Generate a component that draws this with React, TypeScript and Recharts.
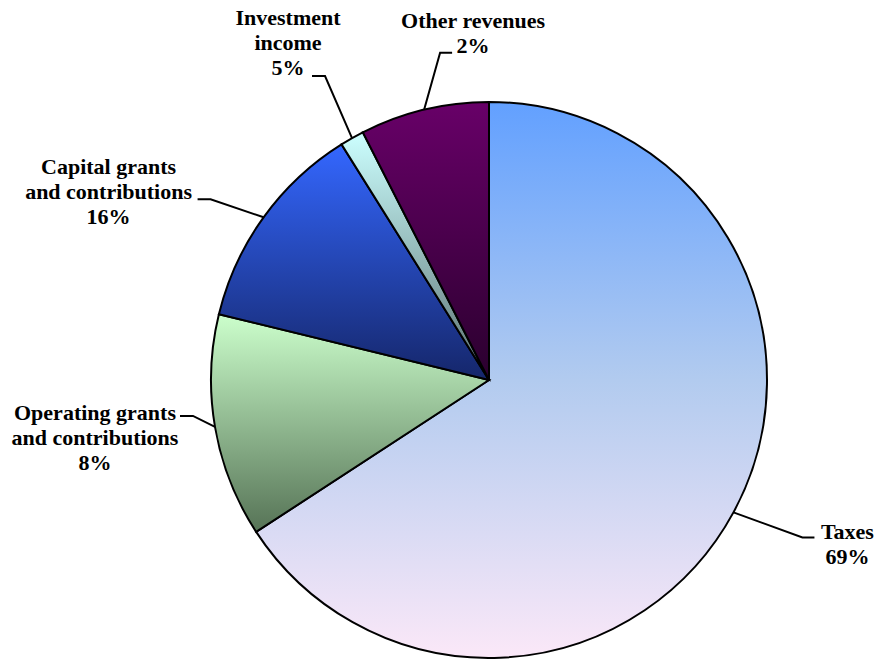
import React from 'react';
import { PieChart, Pie, Cell } from 'recharts';

// slice sizes as drawn (share of the circle)
const categories = [
    'Taxes',
    'Operating grants and contributions',
    'Capital grants and contributions',
    'Investment income',
    'Other revenues',
];
const sliceValues = [65.8, 13.0, 12.3, 1.4, 7.5];

// label texts as printed on the chart
const labelLines = [
    ['Taxes'],
    ['Operating grants', 'and contributions'],
    ['Capital grants', 'and contributions'],
    ['Investment', 'income'],
    ['Other revenues'],
];
const labelPercents = ['69%', '8%', '16%', '5%', '2%'];

const gradients = [
    [['0%', '#62a0ff'], ['50%', '#b2cbef'], ['100%', '#fbe8f8']],
    [['0%', '#ccffcc'], ['100%', '#567356']],
    [['0%', '#3467ff'], ['100%', '#15266a']],
    [['0%', '#ccffff'], ['100%', '#5b7171']],
    [['0%', '#680068'], ['100%', '#2a002e']],
];

// leader line: knee offset from slice edge, horizontal tail, text offsets
const labelLayout = [
    { knee: [69, 25], tail: 12, textDx: 33, textDy: 2 },
    { knee: [-22, -11], tail: -13, textDx: -85, textDy: 4 },
    { knee: [-53, -18], tail: -13, textDx: -89, textDy: -25 },
    { knee: [-27, -62], tail: -13, textDx: -24, textDy: -51 },
    { knee: [16, -57], tail: 12, textDx: 21, textDy: -25 },
];

const data = categories.map((name, i) => ({ name, value: sliceValues[i] }));

const RADIAN = Math.PI / 180;
const LINE_H = 25;

const renderLabel = (props: any) => {
    const { cx, cy, midAngle, outerRadius, index } = props;
    const layout = labelLayout[index];
    const sx = cx + outerRadius * Math.cos(-midAngle * RADIAN);
    const sy = cy + outerRadius * Math.sin(-midAngle * RADIAN);
    const kx = sx + layout.knee[0];
    const ky = sy + layout.knee[1];
    const ex = kx + layout.tail;
    const tx = ex + layout.textDx;
    const ty = ky + layout.textDy;
    const lines = [...labelLines[index], labelPercents[index]];
    return (
        <g key={`label-${index}`}>
            <polyline
                points={`${sx},${sy} ${kx},${ky} ${ex},${ky}`}
                fill="none"
                stroke="#000"
                strokeWidth={2}
            />
            <text
                x={tx}
                y={ty}
                textAnchor="middle"
                fill="#000"
                fontFamily="Liberation Serif"
                fontWeight={700}
                fontSize={22}
            >
                {lines.map((line, j) => (
                    <tspan key={j} x={tx} y={ty + j * LINE_H}>
                        {line}
                    </tspan>
                ))}
            </text>
        </g>
    );
};

const App: React.FC = () => {
    return (
        <div style={{ position: 'absolute', left: 0, top: 0, width: 878, height: 660, background: '#fff' }}>
            <PieChart width={878} height={660} margin={{ top: 0, right: 0, bottom: 0, left: 0 }}>
                <defs>
                    {gradients.map((stops, i) => (
                        <linearGradient key={i} id={`slice${i}`} x1="0" y1="0" x2="0" y2="1">
                            {stops.map(([offset, color]) => (
                                <stop key={offset} offset={offset} stopColor={color} />
                            ))}
                        </linearGradient>
                    ))}
                </defs>
                <Pie
                    data={data}
                    dataKey="value"
                    nameKey="name"
                    cx={489}
                    cy={380}
                    outerRadius={278}
                    startAngle={90}
                    endAngle={-270}
                    stroke="#000"
                    strokeWidth={2}
                    label={renderLabel}
                    labelLine={false}
                    isAnimationActive={false}
                >
                    {data.map((entry, i) => (
                        <Cell key={entry.name} fill={`url(#slice${i})`} stroke="#000" strokeWidth={2} />
                    ))}
                </Pie>
            </PieChart>
        </div>
    );
};

export default App;
